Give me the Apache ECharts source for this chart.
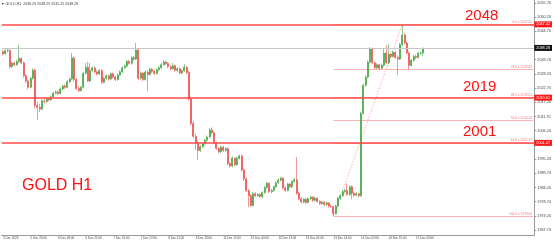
<!DOCTYPE html>
<html><head><meta charset="utf-8">
<script src="https://cdn.jsdelivr.net/npm/echarts@6/dist/echarts.min.js"></script>
<style>html,body{margin:0;padding:0;background:#fff}#c{width:554px;height:241px}</style>
</head><body><div id="c"></div><script>
const xLabels = ["5 Dec 2023","5 Dec 20:00","6 Dec 09:00","6 Dec 21:00","7 Dec 10:00","7 Dec 22:00","8 Dec 11:00","8 Dec 23:00","11 Dec 12:00","12 Dec 00:00","12 Dec 13:00","13 Dec 01:00","13 Dec 14:00","14 Dec 02:00","14 Dec 15:00","15 Dec 03:00"];
const barsPerLabel = 12;
const totalSlots = 232;
// [open, close, low, high]
const candles = [
[2036.8,2036.0,2035.4,2037.4],[2036.0,2037.2,2035.6,2037.8],[2037.2,2037.3,2036.4,2038.0],[2037.3,2031.0,2030.4,2037.8],
[2031.0,2032.4,2030.6,2033.0],[2032.4,2031.8,2031.2,2033.0],[2031.8,2033.0,2031.4,2033.6],[2033.0,2034.2,2032.6,2039.4],
[2034.2,2032.5,2032.0,2034.8],[2032.5,2027.5,2026.8,2033.0],[2027.5,2025.5,2024.6,2028.2],[2025.5,2023.0,2022.3,2026.0],
[2023.0,2026.5,2022.6,2027.0],[2026.5,2029.6,2026.0,2030.4],[2029.6,2016.0,2014.8,2030.2],[2016.0,2015.2,2010.4,2017.2],
[2015.2,2014.6,2013.4,2016.6],[2014.6,2017.8,2014.0,2018.4],[2017.8,2017.5,2016.8,2018.6],[2017.5,2018.6,2017.0,2019.2],
[2018.6,2018.2,2017.6,2019.0],[2018.2,2019.3,2017.8,2019.8],[2019.3,2020.8,2018.8,2021.4],[2020.8,2021.2,2020.2,2021.8],
[2021.2,2020.6,2020.0,2021.8],[2020.6,2022.4,2020.2,2023.0],[2022.4,2023.5,2021.8,2024.0],[2023.5,2023.0,2022.4,2024.2],
[2023.0,2025.2,2022.6,2025.8],[2025.2,2026.2,2024.6,2026.8],[2026.2,2034.4,2025.8,2036.3],[2034.4,2026.0,2025.4,2035.0],
[2026.0,2022.6,2022.0,2026.6],[2022.6,2021.8,2021.2,2023.4],[2021.8,2023.0,2021.4,2023.6],[2023.0,2028.5,2022.6,2029.0],
[2028.5,2030.8,2028.0,2032.4],[2030.8,2025.5,2025.0,2032.8],[2025.5,2029.5,2025.0,2032.5],[2029.5,2030.5,2029.0,2031.2],
[2030.5,2029.0,2028.4,2031.0],[2029.0,2028.2,2027.6,2029.6],[2028.2,2029.5,2027.8,2030.0],[2029.5,2025.0,2024.4,2030.0],
[2025.0,2026.5,2024.6,2027.0],[2026.5,2027.5,2026.0,2028.0],[2027.5,2026.2,2025.6,2028.0],[2026.2,2028.3,2025.8,2028.8],
[2028.3,2027.0,2026.4,2028.8],[2027.0,2026.0,2025.4,2027.4],[2026.0,2027.8,2025.6,2028.4],[2027.8,2029.0,2027.4,2029.6],
[2029.0,2030.6,2028.6,2031.2],[2030.6,2031.2,2030.0,2031.8],[2031.2,2033.0,2030.8,2033.6],[2033.0,2032.3,2031.8,2033.6],
[2032.3,2034.5,2031.8,2035.0],[2034.5,2034.0,2033.4,2035.2],[2034.0,2037.5,2033.6,2040.2],[2037.5,2026.5,2025.8,2038.0],
[2026.5,2028.5,2026.0,2029.2],[2028.5,2026.0,2025.4,2029.0],[2026.0,2029.0,2025.6,2029.6],[2029.0,2028.0,2021.4,2029.6],
[2028.0,2030.0,2027.6,2030.6],[2030.0,2029.2,2028.6,2030.6],[2029.2,2028.4,2027.8,2029.8],[2028.4,2029.8,2028.0,2030.4],
[2029.8,2030.6,2029.2,2031.2],[2030.6,2031.8,2030.2,2032.4],[2031.8,2032.8,2031.4,2033.6],[2032.8,2032.2,2031.6,2033.4],
[2032.2,2031.0,2030.4,2032.8],[2031.0,2030.2,2029.6,2031.6],[2030.2,2031.4,2029.8,2032.4],[2031.4,2029.6,2029.0,2031.8],
[2029.6,2030.2,2029.0,2030.8],[2030.2,2028.6,2028.0,2030.6],[2028.6,2029.4,2028.2,2030.0],[2029.4,2030.8,2029.0,2032.0],
[2030.8,2028.8,2028.2,2031.2],[2028.8,2018.5,2017.8,2029.4],[2018.5,2009.0,2008.2,2019.4],[2009.0,2004.0,2003.2,2010.0],
[2004.0,2001.5,1998.7,2005.0],[2001.5,1998.5,1994.8,2002.4],[1998.5,2000.0,1998.0,2000.6],[2000.0,2001.0,1999.4,2001.6],
[2001.0,2002.5,2000.6,2003.0],[2002.5,2003.8,2002.0,2004.4],[2003.8,2006.5,2003.4,2007.2],[2006.5,2005.4,2004.8,2007.5],
[2005.4,2001.5,2001.0,2006.0],[2001.5,1999.3,1998.8,2002.0],[1999.3,1998.0,1997.4,1999.8],[1998.0,1999.8,1997.6,2000.4],
[1999.8,1998.5,1998.0,2000.4],[1998.5,1999.2,1998.0,1999.8],[1999.2,1993.5,1992.8,1999.8],[1993.5,1992.5,1991.8,1994.0],
[1992.5,1995.6,1992.0,1996.2],[1995.6,1993.0,1992.4,1996.0],[1993.0,1995.5,1992.6,1996.0],[1995.5,1996.4,1995.0,1997.0],
[1996.4,1991.0,1990.4,1997.0],[1991.0,1987.5,1986.8,1991.6],[1987.5,1983.0,1982.4,1988.0],[1983.0,1981.0,1976.6,1983.6],
[1981.0,1977.2,1976.8,1981.6],[1977.2,1981.8,1976.8,1982.4],[1981.8,1981.0,1980.4,1982.4],[1981.0,1981.5,1980.6,1982.0],
[1981.5,1980.7,1980.2,1982.0],[1980.7,1982.2,1980.2,1982.8],[1982.2,1984.2,1981.8,1984.8],[1984.2,1985.8,1983.8,1986.4],
[1985.8,1982.5,1982.0,1986.2],[1982.5,1983.0,1982.0,1983.6],[1983.0,1984.5,1982.6,1985.0],[1984.5,1986.0,1984.0,1986.6],
[1986.0,1987.0,1985.6,1987.6],[1987.0,1987.8,1986.6,1988.4],[1987.8,1984.0,1983.4,1988.2],[1984.0,1983.0,1982.4,1984.6],
[1983.0,1985.5,1982.6,1986.0],[1985.5,1984.5,1984.0,1986.0],[1984.5,1986.5,1984.0,1987.0],[1986.5,1987.2,1986.0,1988.0],
[1987.2,1982.0,1981.4,1996.0],[1982.0,1979.8,1979.2,1982.6],[1979.8,1978.6,1978.0,1980.4],[1978.6,1979.6,1978.0,1980.2],
[1979.6,1978.4,1977.8,1980.0],[1978.4,1979.8,1978.0,1980.4],[1979.8,1980.4,1979.2,1981.0],[1980.4,1979.2,1978.6,1980.8],
[1979.2,1980.0,1978.8,1980.6],[1980.0,1978.8,1978.2,1980.4],[1978.8,1978.0,1977.4,1979.2],[1978.0,1978.5,1977.4,1979.0],
[1978.5,1977.6,1977.0,1979.0],[1977.6,1978.2,1977.0,1978.8],[1978.2,1977.0,1976.4,1978.6],[1977.0,1976.8,1976.2,1977.6],
[1976.8,1974.0,1973.06,1977.2],[1974.0,1977.0,1973.6,1977.6],[1977.0,1980.0,1976.6,1980.6],[1980.0,1981.0,1979.4,1981.6],
[1981.0,1982.6,1980.6,1983.2],[1982.6,1983.0,1982.0,1983.6],[1983.0,1981.5,1981.0,1985.8],[1981.5,1984.5,1981.0,1985.0],
[1984.5,1982.0,1979.6,1985.0],[1982.0,1981.2,1980.6,1982.6],[1981.2,1981.8,1980.8,1982.4],[1981.8,1981.0,1980.4,1982.2],
[1981.0,2013.0,1980.6,2013.6],[2013.0,2023.8,2012.4,2024.4],[2023.8,2027.0,2023.2,2027.6],[2027.0,2032.8,2026.6,2033.4],
[2032.8,2038.0,2032.2,2038.6],[2038.0,2032.5,2032.0,2038.4],[2032.5,2030.6,2030.0,2033.0],[2030.6,2031.8,2030.0,2032.4],
[2031.8,2030.4,2029.8,2032.2],[2030.4,2031.6,2030.0,2032.2],[2031.6,2036.3,2031.0,2038.2],[2036.3,2032.5,2032.0,2039.4],
[2032.5,2035.8,2032.0,2039.8],[2035.8,2035.0,2034.4,2036.4],[2035.0,2036.6,2034.6,2037.2],[2036.6,2034.6,2034.0,2037.0],
[2034.6,2034.0,2027.8,2035.4],[2034.0,2039.6,2033.6,2040.2],[2039.6,2043.3,2039.0,2047.42],[2043.3,2040.2,2039.6,2044.0],
[2040.2,2036.3,2035.8,2040.8],[2036.3,2031.5,2029.7,2036.8],[2031.5,2033.5,2031.0,2034.0],[2033.5,2035.0,2033.0,2035.6],
[2035.0,2034.6,2034.0,2035.6],[2034.6,2036.2,2034.2,2036.8],[2036.2,2036.29,2035.4,2036.8],[2036.29,2038.28,2035.25,2038.29]
];
const yTicks = [2055.70,2050.20,2044.70,2033.70,2028.20,2022.70,2017.20,2011.70,2006.20,1995.20,1989.70,1984.20,1978.70,1973.20,1967.70];
const fibPercent = ["0.0","23.6","38.2","50.0","61.8","100.0"];
const fibPrices = [2047.42,2029.87,2019.01,2010.24,2001.47,1973.06];
const fibAnchorBar = [144,174];
const keyLevels = [2047.42,2019.01,2001.47];
const keyTexts = ["2048","2019","2001"];
const lastPrice = 2038.28;
const header = "\u25BC GOLD,H1  2036.29 2038.29 2035.25 2038.28";
const title = "GOLD H1";

const categories = [];
for (let i = 0; i < totalSlots; i++) {
  const k = i / barsPerLabel;
  categories.push(Number.isInteger(k) && k < xLabels.length ? xLabels[k] : "");
}
const yMin = 1965.77, yMax = 2056.86;
const lastBar = totalSlots - 1;
const font = "Liberation Sans, Arial, sans-serif";

const fibLines = fibPrices.map((p, i) => [
  {coord: [fibAnchorBar[0], p], label: {formatter: fibPercent[i] + " = " + p.toFixed(2)}},
  {coord: [lastBar, p]}
]);
const keyLines = keyLevels.map(p => ({yAxis: p}));

const chart = echarts.init(document.getElementById('c'), null, {renderer: 'canvas'});
chart.setOption({
  animation: false,
  backgroundColor: '#ffffff',
  grid: {left: 0, right: 19, top: 0, bottom: 6, containLabel: false},
  xAxis: {
    type: 'category', data: categories, boundaryGap: true,
    axisLine: {lineStyle: {color: '#9a9a9a', width: 1}},
    axisTick: {show: false},
    axisLabel: {interval: (i, v) => v !== "", align: 'left', margin: 1.5, fontSize: 3, color: '#444', fontFamily: font, hideOverlap: false},
    splitLine: {show: false}
  },
  yAxis: {
    type: 'value', position: 'right', min: yMin, max: yMax, scale: true,
    axisLine: {show: true, lineStyle: {color: '#9a9a9a', width: 1}},
    axisTick: {show: true, length: 2, customValues: yTicks, lineStyle: {color: '#9a9a9a'}},
    axisLabel: {customValues: yTicks, formatter: v => v.toFixed(2), margin: 3, fontSize: 3.8, color: '#444', fontFamily: font},
    splitLine: {show: false}
  },
  series: [
    {
      type: 'candlestick', data: candles, barWidth: 1.5,
      itemStyle: {color: '#0a8a0a', color0: '#ee1111', borderColor: '#43a843', borderColor0: '#f05050', borderWidth: 0.6},
      z: 3,
      markLine: {
        silent: true, symbol: ['none', 'none'], animation: false, z: 2,
        lineStyle: {color: '#ffb4b4', width: 1, type: 'solid'},
        label: {show: true, position: 'insideEndTop', distance: 1, fontSize: 3.2, color: '#ff7070', fontFamily: font},
        data: fibLines.concat([[
          {coord: [fibAnchorBar[0], fibPrices[5]], lineStyle: {type: [1.5, 1.5], color: '#ff9a9a', width: 0.8}, label: {show: false}},
          {coord: [fibAnchorBar[1], fibPrices[0]]}
        ]])
      }
    },
    {
      type: 'line', data: [], z: 4,
      markLine: {
        silent: true, symbol: ['none', 'none'], animation: false,
        lineStyle: {color: '#ff4a4a', width: 1.6, type: 'solid'},
        label: {show: true, position: 'end', distance: 0, formatter: p => p.value.toFixed(2), fontSize: 3.8, color: '#fff', backgroundColor: '#ff1a1a', padding: [1, 2], fontFamily: font},
        data: keyLines
      }
    },
    {
      type: 'line', data: [], z: 1,
      markLine: {
        silent: true, symbol: ['none', 'none'], animation: false,
        lineStyle: {color: '#c8c8c8', width: 1, type: 'solid'},
        label: {show: true, position: 'end', distance: 0, formatter: p => p.value.toFixed(2), fontSize: 3.8, color: '#fff', backgroundColor: '#111', padding: [1, 2], fontFamily: font},
        data: [{yAxis: lastPrice}]
      }
    }
  ],
  graphic: [
    {type: 'text', left: 1, top: 1.5, style: {text: header, fontSize: 3.6, fill: '#444', fontFamily: font}},
    {type: 'text', left: 465, top: 8, style: {text: keyTexts[0], fontSize: 15, fill: '#ff1010', fontFamily: font}},
    {type: 'text', left: 463, top: 79, style: {text: keyTexts[1], fontSize: 15, fill: '#ff1010', fontFamily: font}},
    {type: 'text', left: 463, top: 124, style: {text: keyTexts[2], fontSize: 15, fill: '#ff1010', fontFamily: font}},
    {type: 'text', left: 22, top: 178, style: {text: title, fontSize: 16, fill: '#ff1010', fontFamily: font}}
  ]
});
</script></body></html>
